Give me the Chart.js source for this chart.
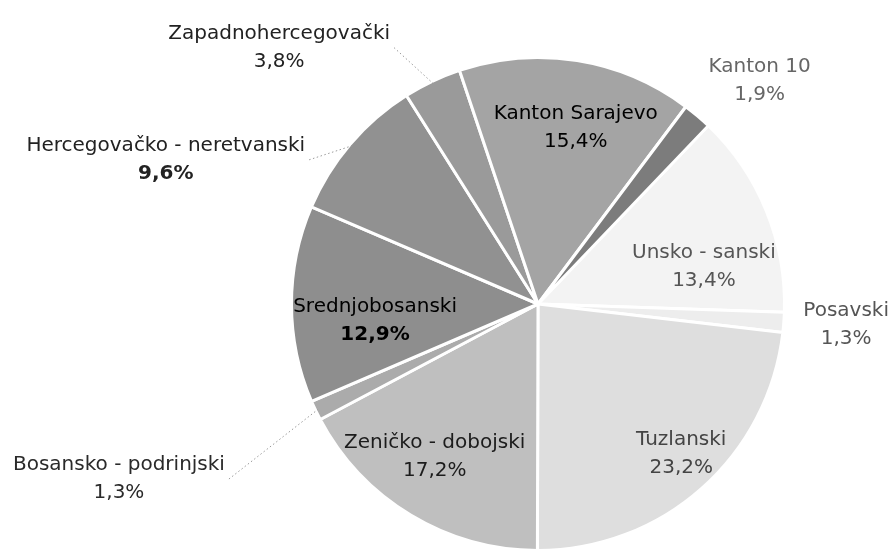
<!DOCTYPE html>
<html>
<head>
<meta charset="utf-8">
<script src="https://cdn.jsdelivr.net/npm/chart.js@4"></script>
<style>
  html, body { margin: 0; padding: 0; background: #ffffff; }
  #wrap { position: relative; width: 893px; height: 553px; }
</style>
</head>
<body>
<div id="wrap"><canvas id="chartKantoni" width="893" height="553"></canvas></div>
<script>
// ========== DONNÉES ==========
const kantoni = ['Unsko - sanski', 'Posavski', 'Tuzlanski', 'Zeničko - dobojski', 'Bosansko - podrinjski',
                 'Srednjobosanski', 'Hercegovačko - neretvanski', 'Zapadnohercegovački', 'Kanton Sarajevo', 'Kanton 10'];
const udjeli = [13.4, 1.3, 23.2, 17.2, 1.3, 12.9, 9.6, 3.8, 15.4, 1.9];
const postoci = ['13,4%', '1,3%', '23,2%', '17,2%', '1,3%', '12,9%', '9,6%', '3,8%', '15,4%', '1,9%'];

// ========== STYLE ==========
const boje = ['#f3f3f3', '#ededed', '#dedede', '#bfbfbf', '#ababab', '#8e8e8e', '#919191', '#9a9a9a', '#a4a4a4', '#7c7c7c'];
// position du bloc d'étiquette, en rayons depuis le centre
const etiketaPoz = [
    [0.673, -0.149], [1.25, 0.085], [0.581, 0.609], [-0.419, 0.621], [-1.70, 0.71],
    [-0.661, 0.069], [-1.51, -0.585], [-1.05, -1.04], [0.153, -0.714], [0.899, -0.907]
];
const etiketaBoja = ['#555', '#555', '#444', '#1c1c1c', '#2a2a2a', '#000', '#222', '#222', '#000', '#666'];
const etiketaBold = [false, false, false, false, false, false, false, false, false, false];
const postoBold   = [false, false, false, false, false, true, true, false, false, false];
const vodilica    = [false, false, false, false, true, false, true, true, false, false];
const FONT = '20px "DejaVu Sans"';

const labelPlugin = {
    id: 'kantonLabels',
    afterDatasetsDraw(chart) {
        const ctx = chart.ctx;
        const meta = chart.getDatasetMeta(0);
        ctx.save();
        ctx.textAlign = 'center';
        ctx.textBaseline = 'middle';
        meta.data.forEach((arc, i) => {
            const r = arc.outerRadius;
            const cx = arc.x, cy = arc.y;
            const x = cx + etiketaPoz[i][0] * r;
            const y = cy + etiketaPoz[i][1] * r;

            if (vodilica[i]) {
                const mid = (arc.startAngle + arc.endAngle) / 2;
                const ex = cx + Math.cos(mid) * r * 0.99;
                const ey = cy + Math.sin(mid) * r * 0.99;
                ctx.font = FONT;
                const w = ctx.measureText(kantoni[i]).width;
                const sx = ex > x ? x + w / 2 + 4 : x - w / 2 - 4;
                ctx.strokeStyle = '#9a9a9a';
                ctx.lineWidth = 1;
                ctx.setLineDash([1.5, 2.5]);
                ctx.beginPath();
                ctx.moveTo(sx, y);
                ctx.lineTo(ex, ey);
                ctx.stroke();
                ctx.setLineDash([]);
            }

            ctx.fillStyle = etiketaBoja[i];
            ctx.font = (etiketaBold[i] ? 'bold ' : '') + FONT;
            ctx.fillText(kantoni[i], x, y - 14);
            ctx.font = (postoBold[i] ? 'bold ' : '') + FONT;
            ctx.fillText(postoci[i], x, y + 14);
        });
        ctx.restore();
    }
};

new Chart(document.getElementById('chartKantoni'), {
    type: 'pie',
    data: {
        labels: kantoni,
        datasets: [{
            data: udjeli,
            backgroundColor: boje,
            borderColor: '#ffffff',
            borderWidth: 3
        }]
    },
    options: {
        responsive: false,
        animation: false,
        rotation: 43.7,
        layout: { padding: { top: 56, bottom: 1, left: 290, right: 107 } },
        plugins: {
            legend: { display: false },
            tooltip: { enabled: false }
        }
    },
    plugins: [labelPlugin]
});
</script>
</body>
</html>
